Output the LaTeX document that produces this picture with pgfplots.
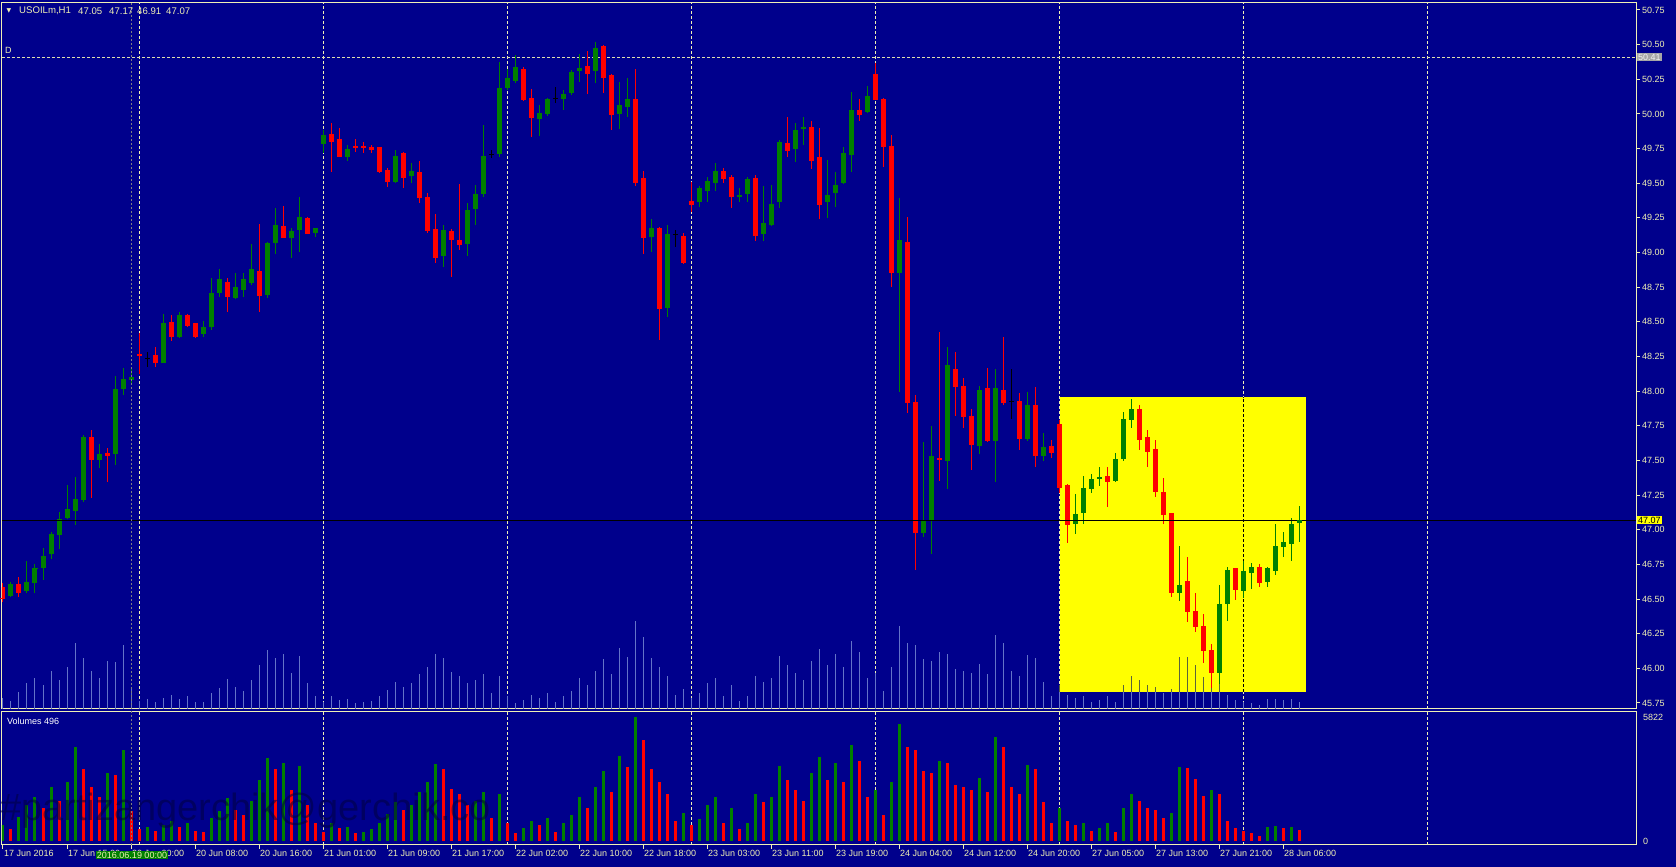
\documentclass[border=0pt]{standalone}
\usepackage{fontspec}
\setmainfont{Liberation Sans}
\newfontfamily\dejavu{DejaVu Sans}
\usepackage{pgfplots}
\pgfplotsset{compat=1.18}
\usepackage{pgfplotstable}

\definecolor{bg}{RGB}{0,0,140}
\definecolor{fg}{RGB}{240,240,180}
\definecolor{bull}{RGB}{0,128,0}
\definecolor{bear}{RGB}{255,0,0}
\definecolor{ovl}{RGB}{100,115,200}
\definecolor{ovldark}{RGB}{90,100,60}
\definecolor{rectc}{RGB}{255,255,0}
\definecolor{boxgreen}{RGB}{0,128,0}

% i = bar, o h l c = prices, d = 1 bull / 0 bear / 2 doji, v = volume, u = 1 if volume rose
\pgfplotstableread{
i o h l c d v u
0 46.590 46.614 46.481 46.506 0 730 1
1 46.522 46.626 46.513 46.607 1 540 0
2 46.607 46.657 46.513 46.546 0 1120 1
3 46.561 46.777 46.542 46.621 1 1710 1
4 46.619 46.753 46.542 46.722 1 2050 1
5 46.722 46.871 46.638 46.806 1 1560 0
6 46.825 46.987 46.787 46.967 1 2540 1
7 46.962 47.131 46.859 47.071 1 1900 0
8 47.088 47.323 47.076 47.143 1 2790 1
9 47.138 47.383 47.035 47.215 1 4400 1
10 47.215 47.684 47.203 47.665 1 3370 0
11 47.672 47.720 47.227 47.504 0 2540 0
12 47.504 47.619 47.444 47.540 1 2050 0
13 47.552 47.588 47.347 47.533 0 3180 1
14 47.547 48.110 47.468 48.009 1 3080 0
15 48.016 48.165 47.973 48.086 1 4250 1
16 48.081 48.158 48.057 48.100 1 1420 0
17 48.268 48.422 48.124 48.256 0 540 0
18 48.237 48.285 48.172 48.237 2 680 1
19 48.261 48.321 48.177 48.206 0 490 0
20 48.206 48.557 48.201 48.490 1 730 1
21 48.497 48.550 48.365 48.393 0 930 1
22 48.393 48.569 48.386 48.543 1 640 0
23 48.550 48.555 48.466 48.473 0 830 1
24 48.490 48.495 48.381 48.393 0 490 0
25 48.410 48.507 48.393 48.461 1 440 0
26 48.466 48.814 48.442 48.701 1 1080 1
27 48.706 48.882 48.682 48.802 1 1420 1
28 48.790 48.814 48.573 48.681 0 2000 1
29 48.669 48.854 48.662 48.749 1 1470 0
30 48.729 48.854 48.681 48.802 1 1220 0
31 48.782 49.061 48.765 48.879 1 1900 1
32 48.866 49.203 48.573 48.693 0 2880 1
33 48.693 49.078 48.669 49.066 1 3910 1
34 49.066 49.319 48.989 49.198 1 3370 0
35 49.191 49.338 49.102 49.109 0 3670 1
36 49.107 49.174 48.958 49.155 1 2400 0
37 49.162 49.403 49.006 49.254 1 3520 1
38 49.246 49.254 49.133 49.138 0 1710 0
39 49.143 49.174 49.109 49.170 1 830 0
40 49.783 49.884 49.716 49.845 1 440 0
41 49.855 49.937 49.583 49.800 0 830 1
42 49.816 49.896 49.687 49.691 0 590 0
43 49.691 49.776 49.663 49.747 1 680 1
44 49.766 49.816 49.723 49.756 0 390 0
45 49.766 49.797 49.720 49.756 0 440 1
46 49.761 49.776 49.715 49.744 0 540 1
47 49.761 49.764 49.571 49.583 0 830 1
48 49.595 49.607 49.475 49.511 0 1270 1
49 49.506 49.739 49.499 49.696 1 1810 1
50 49.715 49.727 49.463 49.540 0 1470 0
51 49.554 49.643 49.499 49.588 1 1710 1
52 49.581 49.660 49.355 49.398 0 2300 1
53 49.403 49.427 49.138 49.162 0 2790 1
54 49.167 49.278 48.927 48.965 0 3620 1
55 48.978 49.199 48.894 49.156 1 3370 0
56 49.156 49.168 48.821 49.096 0 2450 0
57 49.091 49.495 49.019 49.055 0 2200 0
58 49.060 49.360 48.978 49.300 1 1710 0
59 49.315 49.488 49.199 49.416 1 1900 1
60 49.423 49.921 49.399 49.692 1 2300 1
61 49.709 49.740 49.680 49.709 2 1080 0
62 49.711 50.378 49.692 50.180 1 2200 1
63 50.190 50.322 50.173 50.257 1 830 0
64 50.240 50.426 50.226 50.337 1 390 0
65 50.325 50.341 50.096 50.101 0 590 1
66 50.113 50.178 49.832 49.973 0 930 1
67 49.964 50.065 49.841 50.000 1 730 0
68 50.000 50.113 49.986 50.101 1 1080 1
69 50.108 50.192 50.077 50.108 2 440 0
70 50.108 50.173 50.029 50.137 1 830 1
71 50.149 50.317 50.137 50.298 1 1220 1
72 50.313 50.430 50.233 50.325 1 2050 1
73 50.346 50.457 50.144 50.289 0 1560 0
74 50.313 50.522 50.221 50.469 1 2540 1
75 50.493 50.498 50.149 50.262 0 3280 1
76 50.281 50.289 49.884 49.993 0 2300 0
77 50.000 50.233 49.889 50.058 1 4010 1
78 50.053 50.257 49.976 50.101 1 3470 0
79 50.108 50.322 49.483 49.505 0 5822 1
80 49.536 49.591 48.990 49.110 0 4740 0
81 49.110 49.240 49.007 49.175 1 3370 0
82 49.175 49.187 48.369 48.598 0 2790 0
83 48.598 49.199 48.538 49.127 1 2200 0
84 49.127 49.163 49.043 49.127 2 930 0
85 49.119 49.140 48.920 48.930 0 1320 1
86 49.372 49.511 49.295 49.350 0 730 0
87 49.367 49.480 49.331 49.463 1 1030 1
88 49.444 49.547 49.367 49.511 1 1710 1
89 49.504 49.648 49.446 49.588 1 2050 1
90 49.588 49.607 49.504 49.535 0 830 0
91 49.547 49.559 49.324 49.403 0 1560 1
92 49.403 49.468 49.367 49.415 1 540 0
93 49.422 49.547 49.367 49.530 1 830 1
94 49.540 49.559 49.085 49.122 0 2200 1
95 49.134 49.480 49.083 49.206 1 1810 0
96 49.199 49.487 49.191 49.350 1 2050 1
97 49.367 49.812 49.324 49.793 1 3520 1
98 49.788 49.975 49.687 49.735 0 2880 0
99 49.744 49.937 49.655 49.877 1 2400 0
100 49.891 49.975 49.776 49.903 1 1900 0
101 49.908 49.949 49.603 49.663 0 3180 1
102 49.692 49.896 49.239 49.343 0 3960 1
103 49.367 49.667 49.251 49.415 1 2880 0
104 49.427 49.583 49.326 49.487 1 3670 1
105 49.504 49.759 49.494 49.711 1 2790 0
106 49.704 50.156 49.583 50.023 1 4500 1
107 50.028 50.112 49.951 49.999 0 3770 0
108 50.016 50.204 50.004 50.129 1 2050 0
109 50.288 50.370 50.100 50.105 0 2400 1
110 50.105 50.112 49.615 49.764 0 1220 0
111 49.769 49.848 48.754 48.855 0 2790 1
112 48.855 49.391 47.996 49.090 1 5480 1
113 49.076 49.254 47.845 47.917 0 4400 0
114 47.924 47.972 46.709 46.979 0 4250 0
115 46.979 47.635 46.950 47.063 1 3280 0
116 47.063 47.751 46.825 47.532 1 3180 0
117 47.520 48.429 47.354 47.505 0 3770 1
118 47.498 48.321 47.294 48.188 1 3670 0
119 48.160 48.280 47.823 48.032 0 2640 0
120 48.037 48.092 47.736 47.816 0 2540 0
121 47.820 47.871 47.431 47.616 0 2400 0
122 47.606 48.037 47.544 48.008 1 2980 1
123 48.020 48.164 47.635 47.647 0 2300 0
124 47.642 48.160 47.347 48.020 1 4890 1
125 48.008 48.393 47.900 47.917 0 4400 0
126 47.924 48.157 47.796 47.924 2 2540 0
127 47.931 47.984 47.575 47.655 0 2200 0
128 47.655 47.996 47.642 47.893 1 3570 1
129 47.900 48.032 47.455 47.534 0 3370 0
130 47.534 47.700 47.498 47.592 1 1810 0
131 47.604 47.647 47.515 47.556 0 830 0
132 47.760 47.792 47.267 47.303 0 1560 1
133 47.323 47.330 46.902 47.039 0 930 0
134 47.039 47.255 46.969 47.113 1 730 0
135 47.118 47.388 47.039 47.299 1 830 1
136 47.294 47.402 47.267 47.359 1 490 0
137 47.366 47.455 47.315 47.378 1 590 1
138 47.388 47.450 47.161 47.347 0 830 1
139 47.354 47.551 47.347 47.508 1 440 0
140 47.508 47.847 47.498 47.792 1 1560 1
141 47.792 47.943 47.731 47.864 1 2200 1
142 47.871 47.900 47.575 47.654 0 1900 0
143 47.666 47.719 47.450 47.563 0 1560 0
144 47.582 47.647 47.238 47.274 0 1470 0
145 47.270 47.371 47.041 47.113 0 1080 0
146 47.123 47.123 46.512 46.546 0 1320 1
147 46.546 46.882 46.488 46.601 1 3470 1
148 46.630 46.805 46.337 46.409 0 3450 0
149 46.413 46.546 46.264 46.305 0 2900 0
150 46.305 46.392 46.036 46.127 0 2100 0
151 46.132 46.175 45.860 45.969 0 2400 1
152 45.969 46.601 45.890 46.464 1 2200 0
153 46.462 46.733 46.344 46.709 1 930 0
154 46.721 46.721 46.493 46.572 0 590 0
155 46.560 46.777 46.505 46.702 1 490 0
156 46.690 46.762 46.572 46.729 1 390 0
157 46.729 46.750 46.589 46.618 0 240 0
158 46.625 46.733 46.589 46.721 1 640 1
159 46.702 47.041 46.673 46.882 1 690 1
160 46.878 46.986 46.805 46.909 1 600 0
161 46.897 47.082 46.777 47.041 1 650 1
162 47.050 47.170 46.910 47.070 1 496 0
}\candles

\pgfplotsset{
  mtlabel/.style={font=\fontsize{9}{10}\selectfont, text=fg},
}

\begin{document}
\begin{tikzpicture}[x=1pt,y=1pt]
\fill[bg] (0,0) rectangle (1676,867);
\useasboundingbox (0,0) rectangle (1676,867);

% ---------- main price panel ----------
\begin{axis}[
  at={(2pt,158pt)}, anchor=south west,
  width=1634pt, height=706pt, scale only axis,
  xmin=-0.125, xmax=204.125, ymin=45.7067, ymax=50.8005,
  axis line style={fg, line width=1pt},
  xtick=\empty,
  extra x ticks={17,40,63,86,109,132,155,178},
  extra x tick labels={},
  extra x tick style={major tick length=0pt, grid=major},
  grid style={fg, dash pattern=on 3pt off 2pt, line width=1pt},
  ytick={45.75,46,46.25,46.5,46.75,47,47.25,47.5,47.75,48,48.25,48.5,48.75,49,49.25,49.5,49.75,50,50.25,50.5,50.75},
  ytick pos=right, yticklabel pos=right,
  tick align=outside, major tick length=4pt,
  ytick style={fg, line width=1pt},
  y tick label style={/pgf/number format/.cd, fixed, fixed zerofill, precision=2, assume math mode=true, /tikz/.cd, mtlabel, anchor=west, inner sep=0pt, xshift=2pt},
]
% yellow rectangle object
\fill[rectc] (axis cs:132.1,45.83) rectangle (axis cs:162.9,47.96);
\draw[black, line width=1pt, dash pattern=on 3pt off 2pt] (axis cs:155,45.83) -- (axis cs:155,47.96);
% dashed level 50.41
\draw[fg!85!gray, line width=1pt, dash pattern=on 3pt off 2pt] (axis cs:-0.125,50.41) -- (axis cs:204.125,50.41);

% volume overlay in price window
\addplot[draw=none, mark=none, forget plot, error bars/.cd, y dir=plus, y explicit, error mark=none,
  error bar style={draw=ovl, line width=1pt}]
  table[x=i, y expr=45.7067, y error plus expr={\thisrow{v}*0.000109}] {\candles};
\addplot[draw=none, mark=none, forget plot, restrict x to domain=132:162, error bars/.cd, y dir=plus, y explicit, error mark=none,
  error bar style={draw=ovldark, line width=1pt}]
  table[x=i, y expr=45.83, y error plus expr={max(45.7067+\thisrow{v}*0.000109-45.83,0)}] {\candles};

% wicks
\addplot[draw=none, mark=none, forget plot, restrict expr to domain={\thisrow{d}}{1:1}, error bars/.cd, y dir=both, y explicit, error mark=none,
  error bar style={draw=bull, line width=1pt}]
  table[x=i, y expr={(\thisrow{h}+\thisrow{l})/2}, y error expr={(\thisrow{h}-\thisrow{l})/2}] {\candles};
\addplot[draw=none, mark=none, forget plot, restrict expr to domain={\thisrow{d}}{0:0}, error bars/.cd, y dir=both, y explicit, error mark=none,
  error bar style={draw=bear, line width=1pt}]
  table[x=i, y expr={(\thisrow{h}+\thisrow{l})/2}, y error expr={(\thisrow{h}-\thisrow{l})/2}] {\candles};
\addplot[draw=none, mark=none, forget plot, restrict expr to domain={\thisrow{d}}{2:2}, error bars/.cd, y dir=both, y explicit, error mark=none,
  error bar style={draw=black, line width=1pt}]
  table[x=i, y expr={(\thisrow{h}+\thisrow{l})/2}, y error expr={(\thisrow{h}-\thisrow{l})/2}] {\candles};
% bodies
\addplot[draw=none, mark=none, forget plot, restrict expr to domain={\thisrow{d}}{1:1}, error bars/.cd, y dir=both, y explicit, error mark=none,
  error bar style={draw=bull, line width=5pt}]
  table[x=i, y expr={(\thisrow{o}+\thisrow{c})/2}, y error expr={abs(\thisrow{o}-\thisrow{c})/2}] {\candles};
\addplot[draw=none, mark=none, forget plot, restrict expr to domain={\thisrow{d}}{0:0}, error bars/.cd, y dir=both, y explicit, error mark=none,
  error bar style={draw=bear, line width=5pt}]
  table[x=i, y expr={(\thisrow{o}+\thisrow{c})/2}, y error expr={abs(\thisrow{o}-\thisrow{c})/2}] {\candles};
% open/close ticks (thin bodies)
\addplot[only marks, mark=-, mark size=2.5pt, forget plot, mark options={draw=bull, line width=1pt}, restrict expr to domain={\thisrow{d}}{1:1}]
  table[x=i, y=c] {\candles};
\addplot[only marks, mark=-, mark size=2.5pt, forget plot, mark options={draw=bear, line width=1pt}, restrict expr to domain={\thisrow{d}}{0:0}]
  table[x=i, y=c] {\candles};
\addplot[only marks, mark=-, mark size=2.5pt, forget plot, mark options={draw=black, line width=1pt}, restrict expr to domain={\thisrow{d}}{2:2}]
  table[x=i, y=o] {\candles};
% bid line
\draw[black, line width=1pt] (axis cs:-0.125,47.07) -- (axis cs:204.125,47.07);
\end{axis}

% ---------- volumes panel ----------
\begin{axis}[
  at={(2pt,22pt)}, anchor=south west,
  width=1634pt, height=133pt, scale only axis,
  xmin=-0.125, xmax=204.125, ymin=-188, ymax=6057,
  axis line style={fg, line width=1pt},
  xtick={0,8,...,160},
  xticklabels={17 Jun 2016,17 Jun 15:00,20 Jun 00:00,20 Jun 08:00,20 Jun 16:00,21 Jun 01:00,21 Jun 09:00,21 Jun 17:00,22 Jun 02:00,22 Jun 10:00,22 Jun 18:00,23 Jun 03:00,23 Jun 11:00,23 Jun 19:00,24 Jun 04:00,24 Jun 12:00,24 Jun 20:00,27 Jun 05:00,27 Jun 13:00,27 Jun 21:00,28 Jun 06:00},
  xtick pos=bottom,
  tick align=outside, major tick length=4pt,
  xtick style={fg, line width=1pt},
  x tick label style={mtlabel, anchor=north west, inner sep=0pt, xshift=1pt, yshift=-1pt},
  extra x ticks={17,40,63,86,109,132,155,178},
  extra x tick labels={},
  extra x tick style={major tick length=0pt, grid=major},
  grid style={fg, dash pattern=on 3pt off 2pt, line width=1pt},
  ytick={0,5822}, yticklabels={0,5822},
  ytick pos=right, yticklabel pos=right,
  ytick style={draw=none},
  y tick label style={mtlabel, anchor=west, inner sep=0pt, xshift=3pt},
]
\addplot[draw=none, mark=none, forget plot, restrict expr to domain={\thisrow{u}}{1:1}, error bars/.cd, y dir=plus, y explicit, error mark=none,
  error bar style={draw=bull, line width=3pt}]
  table[x=i, y expr=0, y error plus expr={\thisrow{v}}] {\candles};
\addplot[draw=none, mark=none, forget plot, restrict expr to domain={\thisrow{u}}{0:0}, error bars/.cd, y dir=plus, y explicit, error mark=none,
  error bar style={draw=bear, line width=3pt}]
  table[x=i, y expr=0, y error plus expr={\thisrow{v}}] {\candles};
\end{axis}

% watermark
\node[anchor=west, inner sep=0pt, text=black!55!bg, opacity=0.55, font=\fontsize{38}{40}\selectfont] at (0,56) {\#partizangerchik@gerchik.co};

% vertical line object
\draw[gray, line width=0.8pt, dash pattern=on 2pt off 2pt] (131,22) -- (131,864);

% texts
\node[anchor=center, inner sep=0pt, text=fg, font=\dejavu\fontsize{6}{7}\selectfont] at (9,856) {▼};
\node[anchor=west, inner sep=0pt, text=fg, font=\fontsize{9.6}{11}\selectfont] at (19,856) {USOILm,H1};
\node[anchor=west, inner sep=0pt, text=fg, font=\fontsize{9.6}{11}\selectfont] at (78,856) {47.05};
\node[anchor=west, inner sep=0pt, text=fg, font=\fontsize{9.6}{11}\selectfont] at (109,856) {47.17};
\node[anchor=west, inner sep=0pt, text=fg, font=\fontsize{9.6}{11}\selectfont] at (137,856) {46.91};
\node[anchor=west, inner sep=0pt, text=fg, font=\fontsize{9.6}{11}\selectfont] at (166,856) {47.07};
\node[anchor=west, inner sep=0pt, text=fg, font=\fontsize{9}{10}\selectfont] at (5,817) {D};
\node[anchor=west, inner sep=0pt, text=white, font=\fontsize{9}{10}\selectfont] at (7,146) {Volumes 496};
\node[fill=gray!70, text=white!90!gray, inner sep=1pt, font=\fontsize{9}{10}\selectfont, anchor=west] at (1637,810) {50.41};
\node[fill=rectc, text=black, inner sep=1pt, font=\fontsize{9}{10}\selectfont, anchor=west] at (1637,347) {47.07};
\node[fill=boxgreen, text=fg, inner sep=1pt, font=\fontsize{9}{10}\selectfont] at (132,12) {2016.06.19 00:00};
\end{tikzpicture}
\end{document}
